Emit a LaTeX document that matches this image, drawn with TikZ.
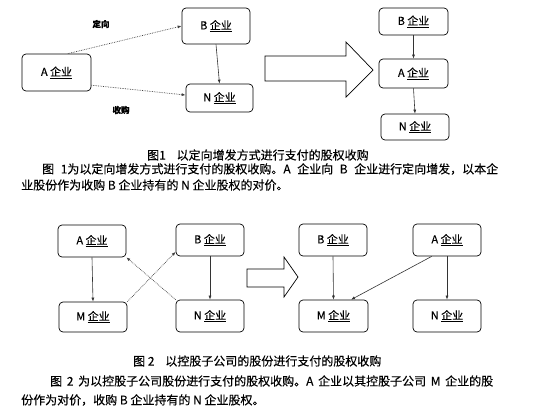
\documentclass[tikz,border=0pt]{standalone}
\usepackage{fontspec}
\setmainfont{Noto Sans CJK SC}[FakeBold=0.3]
\usetikzlibrary{arrows.meta}
\begin{document}
\begin{tikzpicture}[x=1pt,y=-1pt,
  box/.style={draw, rounded corners=4pt, line width=0.7pt, inner sep=0pt,
    font=\fontsize{11}{12}\selectfont},
  solidarr/.style={draw=black!80, line width=0.6pt, -{Latex[length=4pt,width=3pt]}},
  dotarr/.style={draw=black!75, line width=0.7pt, densely dotted, -{Latex[length=4pt,width=3pt]}},
  bigarrow/.style={draw, line width=0.7pt, fill=white},
  lbl/.style={font=\fontsize{8.5}{10}\selectfont\bfseries, inner sep=0pt},
  capt/.style={font=\fontsize{12}{14}\selectfont, inner sep=0pt, anchor=west},
  para/.style={font=\fontsize{12}{14}\selectfont, inner sep=0pt, anchor=west}
]
\useasboundingbox (0,0) rectangle (543,410);
\fill[white] (0,0) rectangle (543,410);

% ---------- Figure 1 ----------
\node[box, minimum width=69pt, minimum height=37pt] (A1) at (56.5,72.5) {A \underline{企业}};
\node[box, minimum width=68pt, minimum height=36pt] (B1) at (216,26) {B \underline{企业}};
\node[box, minimum width=67pt, minimum height=28pt] (N1) at (219.5,98) {N \underline{企业}};

\draw[dotarr] (A1.59) -- (B1.west);
\draw[dotarr] (A1.-20) -- (N1.175);
\draw[solidarr] (B1.south) -- (N1.north);

\node[lbl] (l1) at (101,24) {定向};
\node[lbl] (l2) at (121,110) {收购};

\draw[bigarrow] (265,56) -- (346,56) -- (346,42) -- (373,70) -- (346,97) -- (346,81) -- (265,81) -- cycle;

\node[box, minimum width=69pt, minimum height=27pt] (B2) at (413.5,21.5) {B \underline{企业}};
\node[box, minimum width=69pt, minimum height=29pt] (A2) at (413.5,73.5) {A \underline{企业}};
\node[box, minimum width=68pt, minimum height=26pt] (N2) at (415,127) {N \underline{企业}};
\draw[solidarr] (B2.south) -- (A2.north);
\draw[solidarr] (A2.south) -- (N2.north);

\node[capt] (c1) at (147,155) {图1\hspace{0.9em}以定向增发方式进行支付的股权收购};
\node[para] (p1a) at (42,169) {\makebox[456pt][s]{图 1为以定向增发方式进行支付的股权收购。A 企业向 B 企业进行定向增发，以本企}};
\node[para] (p1b) at (21,185) {业股份作为收购 B 企业持有的 N 企业股权的对价。};

% ---------- Figure 2 ----------
\node[box, minimum width=68pt, minimum height=32pt] (A3) at (92,241) {A \underline{企业}};
\node[box, minimum width=68pt, minimum height=32pt] (B3) at (210,240) {B \underline{企业}};
\node[box, minimum width=68pt, minimum height=30pt] (M3) at (93,317) {M \underline{企业}};
\node[box, minimum width=68pt, minimum height=32pt] (N3) at (210,316) {N \underline{企业}};
\draw[solidarr] (A3.south) -- (M3.north);
\draw[solidarr] (B3.south) -- (N3.north);
\draw[dotarr] (M3.north east) -- (B3.199);
\draw[dotarr] (N3.north west) -- (A3.south east);

\draw[bigarrow] (247,269) -- (284,269) -- (284,257) -- (298,277) -- (284,297) -- (284,287) -- (247,287) -- cycle;

\node[box, minimum width=68pt, minimum height=32pt] (B4) at (333,240) {B \underline{企业}};
\node[box, minimum width=68pt, minimum height=32pt] (A4) at (447,240) {A \underline{企业}};
\node[box, minimum width=69pt, minimum height=32pt] (M4) at (333.5,316) {M \underline{企业}};
\node[box, minimum width=68pt, minimum height=32pt] (N4) at (447,316) {N \underline{企业}};
\draw[solidarr] (B4.south) -- (M4.north);
\draw[solidarr] (A4.south) -- (N4.north);
\draw[solidarr] (A4.227) -- (M4.43);

\node[capt] (c2) at (133,361) {图 2\hspace{0.9em}以控股子公司的股份进行支付的股权收购};
\node[para] (p2a) at (50,381) {\makebox[443pt][s]{图 2 为以控股子公司股份进行支付的股权收购。A 企业以其控股子公司 M 企业的股}};
\node[para] (p2b) at (21,400) {份作为对价，收购 B 企业持有的 N 企业股权。};
\end{tikzpicture}
\end{document}
